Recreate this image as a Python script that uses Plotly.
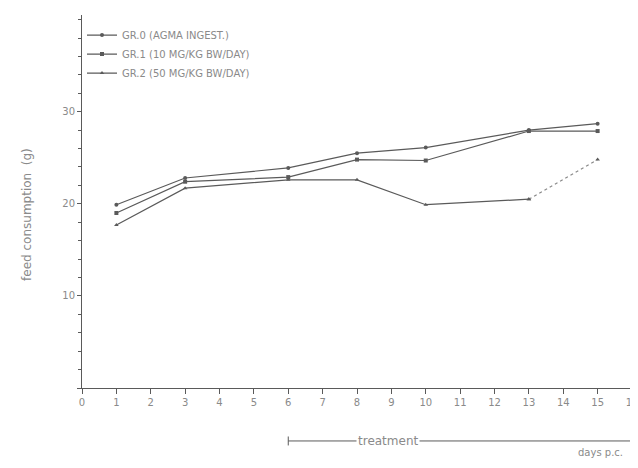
import plotly.graph_objects as go

days = [1, 3, 6, 8, 10, 13, 15]
gr0 = [19.9, 22.8, 23.9, 25.5, 26.1, 28.0, 28.7]
gr1 = [19.0, 22.4, 22.9, 24.8, 24.7, 27.9, 27.9]
gr2 = [17.7, 21.7, 22.6, 22.6, 19.9, 20.5, 24.8]
names = ["GR.0 (AGMA INGEST.)", "GR.1 (10 MG/KG BW/DAY)", "GR.2 (50 MG/KG BW/DAY)"]
x_ticks = list(range(0, 17))
y_ticks = [0, 10, 20, 30]
treatment_start, treatment_end = 6, 16

line_col = "#5a5a5a"
text_col = "#8a8a8a"
font = "DejaVu Sans"

fig = go.Figure()
symbols = ["circle", "square", "triangle-up"]
for i, (nm, ys) in enumerate(zip(names, [gr0, gr1, gr2])):
    if i == 2:
        fig.add_trace(go.Scatter(x=days[:6], y=ys[:6], mode="lines+markers", name=nm,
                                 line=dict(color=line_col, width=1.2),
                                 marker=dict(symbol=symbols[i], size=4, color=line_col)))
        fig.add_trace(go.Scatter(x=days[5:], y=ys[5:], mode="lines+markers", showlegend=False,
                                 line=dict(color="#8a8a8a", width=1.2, dash="dot"),
                                 marker=dict(symbol=symbols[i], size=4, color=line_col)))
    else:
        fig.add_trace(go.Scatter(x=days, y=ys, mode="lines+markers", name=nm,
                                 line=dict(color=line_col, width=1.2),
                                 marker=dict(symbol=symbols[i], size=4, color=line_col)))

# page body has an 8px margin, so the figure is sized 630x460 to fill the 638x468 window
fig.update_layout(
    width=630, height=460,
    margin=dict(l=74, r=6, t=7, b=80),
    paper_bgcolor="white", plot_bgcolor="white",
    font=dict(family=font, size=10, color=text_col),
    legend=dict(x=0.0, y=0.985, xanchor="left", yanchor="top",
                bgcolor="rgba(0,0,0,0)", font=dict(size=10, color=text_col, family=font),
                tracegroupgap=0, itemwidth=30),
    xaxis=dict(range=[0, 16], tickmode="array", tickvals=x_ticks,
               ticktext=[str(v) for v in x_ticks], automargin=False, ticklabeloverflow="allow",
               showgrid=False, zeroline=False, showline=True, linecolor=line_col, linewidth=1,
               ticks="outside", ticklen=5, tickcolor=line_col, tickfont=dict(size=10, color=text_col)),
    yaxis=dict(range=[0, 40.5], tickmode="array", tickvals=y_ticks,
               ticktext=["", "10", "20", "30"], automargin=False,
               showgrid=False, zeroline=False, showline=True, linecolor=line_col, linewidth=1,
               ticks="outside", ticklen=4, tickcolor=line_col, tickfont=dict(size=10, color=text_col),
               minor=dict(dtick=2, ticks="outside", ticklen=3, tickcolor=line_col)),
)

fig.add_annotation(x=-0.1, y=0.464, xref="paper", yref="paper", xanchor="center", yanchor="middle",
                   text="feed consumption  (g)", textangle=-90, showarrow=False,
                   font=dict(size=12, color=text_col))

# treatment bracket
yb = -0.142
fig.add_shape(type="line", xref="x", yref="paper", x0=treatment_start, x1=treatment_end, y0=yb, y1=yb,
              line=dict(color=line_col, width=1))
for xv in (treatment_start, treatment_end):
    fig.add_shape(type="line", xref="x", yref="paper", x0=xv, x1=xv, y0=yb - 0.012, y1=yb + 0.012,
                  line=dict(color=line_col, width=1))
fig.add_annotation(x=8.9, y=yb, xref="x", yref="paper", yanchor="middle",
                   text="treatment", showarrow=False, bgcolor="white",
                   font=dict(size=12, color=text_col))
fig.add_annotation(x=15.07, y=-0.193, xref="x", yref="paper", text="days p.c.", showarrow=False,
                   font=dict(size=10, color=text_col))

fig.write_html("out.html")
